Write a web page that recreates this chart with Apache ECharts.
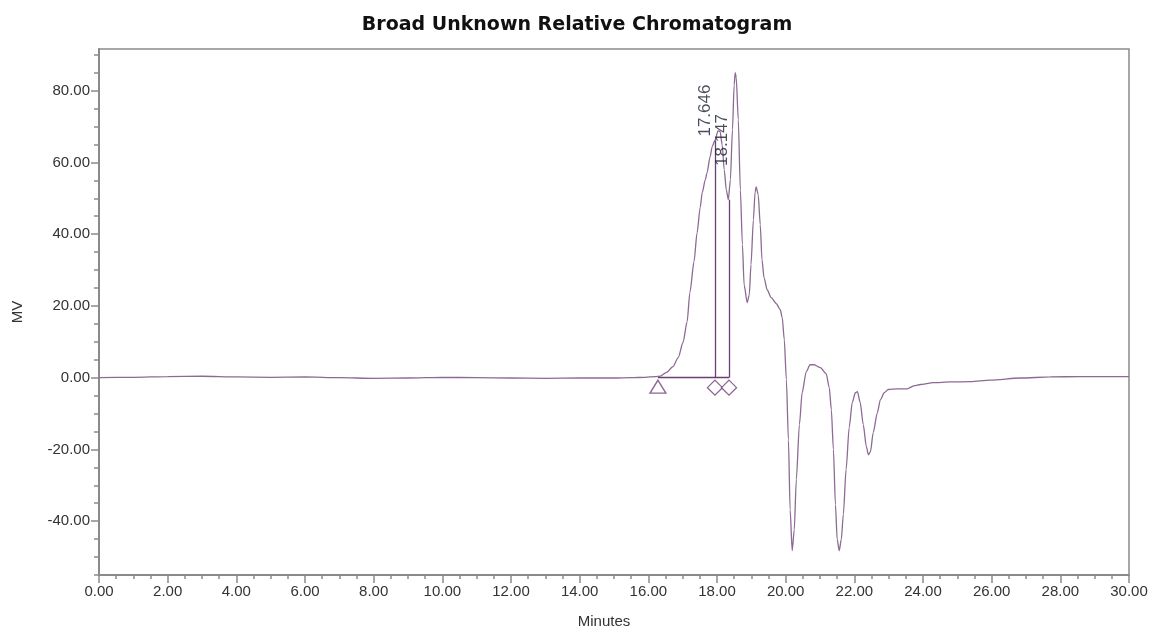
<!DOCTYPE html>
<html>
<head>
<meta charset="utf-8">
<title>Broad Unknown Relative Chromatogram</title>
<script src="https://cdn.jsdelivr.net/npm/echarts@6/dist/echarts.min.js"></script>
<style>
  html, body { margin: 0; padding: 0; background: #fff; }
  #chart { width: 1154px; height: 631px; }
</style>
</head>
<body>
<div id="chart"></div>
<script>
// Detector trace: retention time (min) and signal (mV)
const timeMin = [
  0, 1, 2, 3, 4, 5, 6, 7, 8, 9, 10, 11, 12, 13, 14, 15, 15.5, 15.91,
  16.20, 16.35, 16.52, 16.72, 16.87, 17.01, 17.13, 17.21, 17.33, 17.42, 17.51,
  17.57, 17.66, 17.71, 17.80, 17.86, 17.94, 18.03, 18.09, 18.15, 18.21, 18.27,
  18.33, 18.39, 18.45, 18.50, 18.53, 18.56, 18.62, 18.68, 18.74, 18.79, 18.88,
  18.94, 18.99, 19.06, 19.11, 19.14, 19.20, 19.26, 19.31, 19.37, 19.46, 19.58,
  19.73, 19.84, 19.90, 19.96, 20.02, 20.08, 20.13, 20.19, 20.25, 20.31, 20.40,
  20.48, 20.60, 20.71, 20.83, 21.01, 21.18, 21.27, 21.33, 21.39, 21.45, 21.50,
  21.56, 21.62, 21.68, 21.76, 21.85, 21.94, 22.03, 22.09, 22.17, 22.26, 22.35,
  22.41, 22.47, 22.55, 22.67, 22.76, 22.87, 22.99, 23.25, 23.54, 23.75, 23.92,
  24.30, 24.80, 25.38, 25.96, 26.84, 27.71, 28.58, 30.00
];
const signalMV = [
  0.0, 0.1, 0.3, 0.4, 0.2, 0.1, 0.2, 0.0, -0.2, -0.1, 0.1, 0.0, -0.1, -0.2, -0.1, -0.1, 0.0, 0.1,
  0.3, 0.45, 1.4, 3.1, 5.6, 9.8, 15.6, 23.7, 32.3, 40.4, 47.4,
  51.6, 55.2, 57.1, 61.6, 64.4, 66.1, 68.8, 68.6, 64.9, 58.0, 52.4,
  49.6, 55.2, 69.1, 81.6, 85.0, 83.6, 71.9, 52.4, 37.1, 25.9, 20.9,
  23.1, 31.5, 44.0, 51.8, 53.2, 51.0, 42.6, 32.9, 27.9, 24.5, 22.3,
  20.6, 19.0, 16.7, 10.6, -0.5, -17.3, -36.8, -48.2, -42.4, -28.4, -13.1,
  -4.2, 1.7, 3.6, 3.6, 2.8, 1.1, -2.8, -8.9, -20.0, -35.4, -45.1,
  -48.2, -45.1, -38.1, -25.6, -13.9, -6.9, -4.2, -3.9, -6.9, -13.1, -19.2,
  -21.5, -20.6, -15.3, -9.8, -6.1, -4.2, -3.3, -3.1, -3.1, -2.2, -1.9,
  -1.4, -1.2, -1.1, -0.7, -0.1, 0.2, 0.3, 0.3
];

// Integration events
const peakStartTimes = [16.28];
const peakEndTimes = [17.94, 18.35];
const dropLineTops = [66.1, 49.6];

// Peak retention-time labels
const peakNames = ['17.646', '18.147'];
const peakTimes = [17.646, 18.147];
const peakLabelHeights = [67.2, 59.0];

// Axis ticks
const xTickLabels = [0, 2, 4, 6, 8, 10, 12, 14, 16, 18, 20, 22, 24, 26, 28, 30];
const yTickLabels = [-40, -20, 0, 20, 40, 60, 80];
const yMin = -55;
const yMax = 91.6;

const yMinorTicks = [];
for (let v = yMin; v <= 90; v += 5) yMinorTicks.push(v);

const traceColor = '#8d6a93';
const eventColor = '#6b3f74';
const axisColor = '#8a8a8a';
const textColor = '#333333';

const trace = timeMin.map((t, i) => [t, signalMV[i]]);

const dropLines = peakEndTimes.map((t, i) => [
  { coord: [t, 0] },
  { coord: [t, dropLineTops[i]] }
]);
const integrationBaseline = [[
  { coord: [peakStartTimes[0], 0] },
  { coord: [peakEndTimes[peakEndTimes.length - 1], 0] }
]];

const chart = echarts.init(document.getElementById('chart'));
chart.setOption({
  animation: false,
  backgroundColor: '#ffffff',
  title: {
    text: 'Broad Unknown Relative Chromatogram',
    left: 'center',
    top: 11,
    textStyle: {
      fontFamily: 'DejaVu Sans',
      fontWeight: 'bold',
      fontSize: 19,
      color: '#111'
    }
  },
  grid: {
    left: 99,
    right: 25,
    top: 49,
    bottom: 56,
    outerBoundsMode: 'none',
    containLabel: false,
    show: true,
    borderColor: axisColor,
    borderWidth: 1.5,
    backgroundColor: 'transparent'
  },
  xAxis: {
    type: 'value',
    min: 0,
    max: 30,
    interval: 2,
    name: 'Minutes',
    nameLocation: 'middle',
    nameGap: 39,
    nameTextStyle: {
      fontFamily: 'Liberation Sans',
      fontSize: 15,
      color: textColor,
      padding: [0, 20, 0, 0]
    },
    axisLine: { show: true, onZero: false, lineStyle: { color: axisColor, width: 2 } },
    axisTick: { show: true, length: 8, lineStyle: { color: axisColor, width: 1.5 } },
    minorTick: { show: true, splitNumber: 4, length: 4, lineStyle: { color: axisColor, width: 1.5 } },
    axisLabel: {
      margin: 9,
      fontFamily: 'Liberation Sans',
      fontSize: 15,
      color: textColor,
      formatter: v => xTickLabels.includes(v) ? v.toFixed(2) : ''
    },
    splitLine: { show: false },
    minorSplitLine: { show: false }
  },
  yAxis: [
    {
      type: 'value',
      min: yMin,
      max: yMax,
      name: 'MV',
      nameLocation: 'middle',
      nameGap: 74,
      nameRotate: 90,
      nameTextStyle: {
        fontFamily: 'Liberation Sans',
        fontSize: 15,
        color: textColor
      },
      axisLine: { show: true, onZero: false, lineStyle: { color: axisColor, width: 2 } },
      axisTick: {
        show: true,
        length: 8,
        customValues: yTickLabels,
        lineStyle: { color: axisColor, width: 1.5 }
      },
      axisLabel: {
        margin: 9,
        fontFamily: 'Liberation Sans',
        fontSize: 15,
        color: textColor,
        customValues: yTickLabels,
        formatter: v => v.toFixed(2)
      },
      splitLine: { show: false }
    },
    {
      type: 'value',
      min: yMin,
      max: yMax,
      position: 'left',
      axisLine: { show: false },
      axisTick: {
        show: true,
        length: 5,
        customValues: yMinorTicks,
        lineStyle: { color: axisColor, width: 1.5 }
      },
      axisLabel: { show: false },
      splitLine: { show: false }
    }
  ],
  series: [
    {
      name: 'Signal',
      type: 'line',
      data: trace,
      showSymbol: false,
      smooth: 0.25,
      smoothMonotone: 'x',
      lineStyle: { color: traceColor, width: 1.3 },
      z: 3,
      markLine: {
        silent: true,
        symbol: 'none',
        animation: false,
        label: { show: false },
        lineStyle: { color: eventColor, width: 1.3, type: 'solid' },
        data: dropLines.concat(integrationBaseline)
      }
    },
    {
      name: 'Peak start',
      type: 'scatter',
      data: peakStartTimes.map(t => [t, 0]),
      symbol: 'triangle',
      symbolSize: [16, 13],
      symbolOffset: [0, 9],
      itemStyle: { color: '#ffffff', borderColor: eventColor, borderWidth: 1.3 },
      z: 4
    },
    {
      name: 'Peak end',
      type: 'scatter',
      data: peakEndTimes.map(t => [t, 0]),
      symbol: 'diamond',
      symbolSize: [15, 15],
      symbolOffset: [0, 10],
      itemStyle: { color: '#ffffff', borderColor: eventColor, borderWidth: 1.3 },
      z: 4
    },
    {
      name: 'Retention time',
      type: 'scatter',
      data: peakTimes.map((t, i) => ({ name: peakNames[i], value: [t, peakLabelHeights[i]] })),
      symbolSize: 1,
      itemStyle: { color: 'transparent' },
      label: {
        show: true,
        position: 'inside',
        rotate: 90,
        align: 'left',
        verticalAlign: 'middle',
        fontFamily: 'Liberation Sans',
        fontSize: 17,
        color: '#1d2233',
        formatter: p => p.name
      },
      z: 5
    }
  ]
});
</script>
</body>
</html>
